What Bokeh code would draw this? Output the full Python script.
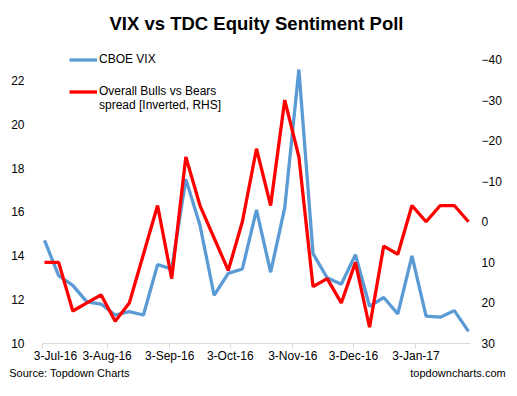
import pandas as pd
from bokeh.plotting import figure
from bokeh.models import (Range1d, LinearAxis, FixedTicker, Legend, LegendItem,
                          ColumnDataSource, Title)
from bokeh.embed import file_html
from bokeh.resources import INLINE

# ---- data ----
start_date = "2016-07-03"
n_weeks = 31
vix = [14.7, 13.1, 12.65, 11.9, 11.8, 11.3, 11.45, 11.3, 13.6, 13.4, 17.5, 15.4,
       12.2, 13.2, 13.4, 16.1, 13.25, 16.2, 22.5, 14.1, 13.0, 12.7, 14.05, 11.7,
       12.1, 11.35, 14.0, 11.25, 11.2, 11.5, 10.55]
spread = [10, 10, 22, 20, 18, 24.5, 20, 8, -4, 14, -16, -4, 4, 12, 0, -18, -4,
          -30, -16, 16, 14, 20, 10, 26, 6, 8, -4, 0, -4, -4, 0]
tick_dates = ["2016-07-03", "2016-08-03", "2016-09-03", "2016-10-03",
              "2016-11-03", "2016-12-03", "2017-01-03"]
tick_labels = ["3-Jul-16", "3-Aug-16", "3-Sep-16", "3-Oct-16", "3-Nov-16",
               "3-Dec-16", "3-Jan-17"]
left_ticks = [10, 12, 14, 16, 18, 20, 22]
right_ticks = [-40, -30, -20, -10, 0, 10, 20, 30]
title_text = "VIX vs TDC Equity Sentiment Poll"
source_text = "Source: Topdown Charts"
site_text = "topdowncharts.com"
vix_label = "CBOE VIX"
spread_label_1 = "Overall Bulls vs Bears"
spread_label_2 = "spread [Inverted, RHS]"

FONT = "Liberation Sans"
W, H = 510, 388
FRAME_L, FRAME_R = 42, 470
RANGE_START, RANGE_END = "2016-07-02", "2017-01-30"

def to_ms(ts):
    return int(pd.Timestamp(ts).value // 10**6)

X0, X1 = to_ms(RANGE_START), to_ms(RANGE_END)

def px_to_ms(px):
    return int(X0 + (px - FRAME_L) / (FRAME_R - FRAME_L) * (X1 - X0))

dates = pd.date_range(start_date, periods=n_weeks, freq="7D")
x_ms = [to_ms(d) for d in dates]
src = ColumnDataSource(dict(x=x_ms, vix=vix, spread=spread))

p = figure(width=W, height=H, output_backend="svg", toolbar_location=None,
           x_range=Range1d(X0, X1), y_range=Range1d(10, 23.46),
           min_border_left=FRAME_L, min_border_right=W - FRAME_R,
           min_border_top=48, min_border_bottom=45)
p.extra_y_ranges = {"spread": Range1d(start=30, end=-42.7)}
p.outline_line_color = None
p.xgrid.visible = False
p.ygrid.visible = False

p.title = Title(text=title_text, align="center", offset=4.5, standoff=25,
                vertical_align="top",
                text_font=FONT, text_font_size="18.5px", text_font_style="bold",
                text_color="black")

# x axis: tick marks drawn as (gray) minor ticks at the month positions,
# labels carried by the major ticks (first label nudged right of the edge)
label_ms = [to_ms(d) for d in tick_dates]
label_ms[0] = px_to_ms(55)
mark_ms = [X0] + [to_ms(d) for d in tick_dates[1:]]
xa = p.xaxis[0]
xa.ticker = FixedTicker(ticks=label_ms, minor_ticks=mark_ms)
xa.major_label_overrides = dict(zip(label_ms, tick_labels))
xa.axis_line_color = "#D9D9D9"
xa.major_tick_line_color = None
xa.major_tick_out = 5
xa.major_tick_in = 0
xa.minor_tick_line_color = "#D9D9D9"
xa.minor_tick_out = 5
xa.minor_tick_in = 0
xa.major_label_standoff = 0
xa.major_label_text_font = FONT
xa.major_label_text_font_size = "12px"
xa.major_label_text_color = "black"

# footer texts carried by a second (line-less) bottom axis
foot_ticks = [px_to_ms(69), px_to_ms(457.5)]
fa = LinearAxis(ticker=FixedTicker(ticks=foot_ticks),
                major_label_overrides={foot_ticks[0]: source_text,
                                       foot_ticks[1]: site_text})
fa.axis_line_color = None
fa.major_tick_line_color = None
fa.minor_tick_line_color = None
fa.major_label_standoff = -5
fa.major_label_text_font = FONT
fa.major_label_text_font_size = "11px"
fa.major_label_text_color = "black"
p.add_layout(fa, "below")

ya = p.yaxis[0]
ya.ticker = FixedTicker(ticks=left_ticks)
ya.axis_line_color = None
ya.major_tick_line_color = None
ya.minor_tick_line_color = None
ya.major_label_standoff = 12
ya.major_label_text_font = FONT
ya.major_label_text_font_size = "12px"
ya.major_label_text_color = "black"

ra = LinearAxis(y_range_name="spread", ticker=FixedTicker(ticks=right_ticks))
ra.axis_line_color = None
ra.major_tick_line_color = None
ra.minor_tick_line_color = None
ra.major_label_standoff = 5
ra.major_label_text_font = FONT
ra.major_label_text_font_size = "12px"
ra.major_label_text_color = "black"
p.add_layout(ra, "right")

r_vix = p.line("x", "vix", source=src, line_color="#5B9BD5", line_width=3.3)
r_spr = p.line("x", "spread", source=src, y_range_name="spread",
               line_color="#FF0000", line_width=3.3)
r_blank = p.line(x=[], y=[], line_alpha=0)

common = dict(padding=0, margin=0, glyph_width=28, glyph_height=13, label_height=13,
              label_standoff=2, label_text_font=FONT, label_text_font_size="12px",
              label_text_color="black", border_line_alpha=0,
              background_fill_alpha=0)
leg_a = Legend(items=[LegendItem(label=vix_label, renderers=[r_vix])],
               location=(27, 277), spacing=0, **common)
leg_b = Legend(items=[LegendItem(label=spread_label_1, renderers=[r_spr]),
                      LegendItem(label=spread_label_2, renderers=[r_blank])],
               location=(27, 231), spacing=0, **common)
p.add_layout(leg_a, "center")
p.add_layout(leg_b, "center")

open("out.html", "w").write(file_html(p, INLINE))
